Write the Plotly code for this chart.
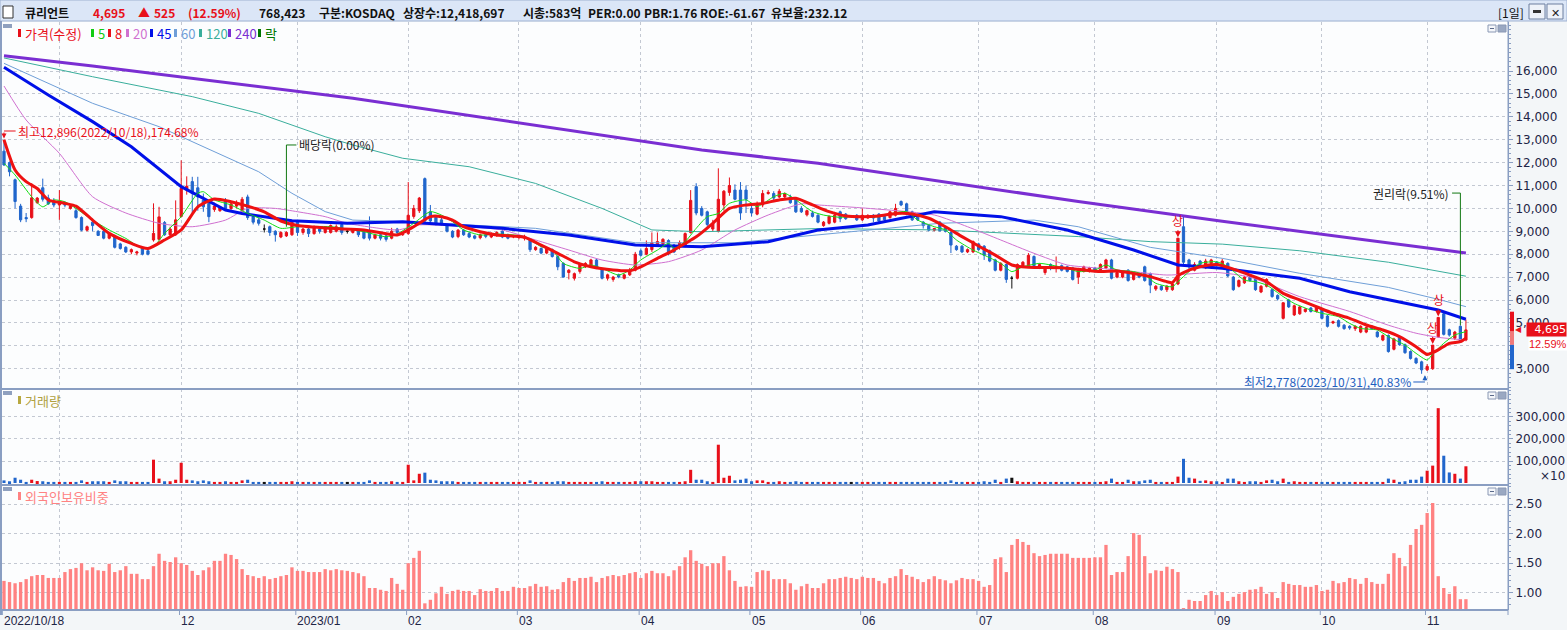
import plotly.graph_objects as go

W, H = 1567, 630

# ---------------------------------------------------------------- data
# 큐리언트 일봉 2022/10/18 ~ 2023/11/10 (265 거래일), x = 거래일 순번
opens = [
    12500, 12000, 11250, 10100, 9600, 9600, 10250, 10900, 10450, 10300,
    10150, 10200, 10000, 9900, 9600, 9050, 9400, 9000, 9000, 8700,
    8800, 8450, 8300, 8100, 8050, 8250, 8150, 8620, 8650, 9380,
    8850, 8850, 9650, 10800, 11170, 10900, 10360, 10220, 9950, 9900,
    10300, 10000, 10100, 9900, 10500, 9650, 9500, 9100, 9200, 9000,
    8750, 8800, 8850, 9400, 8950, 9100, 8900, 9100, 8950, 8950,
    9000, 9300, 9000, 8950, 9050, 9000, 9000, 8700, 8850, 8800,
    8700, 9100, 8850, 8900, 9650, 9900, 11300, 9850, 9650, 9500,
    9250, 9000, 8770, 9050, 8900, 8800, 8720, 8850, 8750, 8820,
    9000, 8850, 8750, 8730, 8700, 8620, 8200, 8250, 8050, 8200,
    7900, 7600, 7200, 6950, 7250, 7450, 7450, 7750, 7350, 6950,
    6900, 7100, 6950, 7100, 7300, 8150, 8000, 8200, 8400, 8450,
    8600, 8400, 8300, 8350, 8950, 10950, 10000, 9850, 9100, 9000,
    10150, 10700, 10800, 10800, 10800, 10000, 9750, 10150, 10650, 10650,
    10500, 10500, 10500, 10400, 10000, 9720, 9800, 9700, 9250, 9350,
    9400, 9850, 9750, 9650, 9700, 9500, 9580, 9700, 9750, 9650,
    9600, 9700, 10300, 10200, 9850, 9700, 9400, 9250, 9050, 9400,
    9150, 8950, 8350, 8350, 8100, 8100, 8450, 8350, 8150, 7750,
    7300, 7550, 6950, 6950, 7450, 7500, 7900, 7400, 7200, 7550,
    7400, 7500, 7450, 7400, 7000, 7250, 7250, 7400, 7250, 7400,
    7750, 7000, 7000, 7300, 6900, 7100, 7450, 7150, 6480, 6600,
    6450, 6450, 6700, 9200, 7750, 7300, 7700, 7400, 7600, 7650,
    7450, 7600, 7000, 6600, 6750, 7000, 6950, 6350, 6600, 6450,
    6200, 5200, 6000, 5350, 5400, 5500, 5650, 5500, 5600, 5300,
    5000, 5100, 4900, 4850, 4750, 4600, 4600, 4850, 4600, 4250,
    4450, 3850, 4400, 4050, 3750, 3450, 3300, 2950, 3000, 4400,
    5400, 4700, 4330, 4850, 4250,
]
highs = [
    12896, 12050, 11300, 10200, 9800, 11100, 10500, 11300, 10600, 10450,
    10800, 10300, 10150, 10000, 9650, 9250, 9450, 9050, 9050, 8950,
    8850, 8500, 8350, 8250, 8150, 8300, 8200, 10220, 10070, 9450,
    9200, 10350, 12100, 11400, 11380, 11380, 10650, 10300, 10250, 10100,
    10450, 10250, 10350, 10500, 10600, 9750, 9600, 9300, 9250, 9050,
    9000, 9000, 9500, 9500, 9150, 9150, 9250, 9200, 9200, 9300,
    9300, 9350, 9100, 9100, 9100, 9050, 9650, 8900, 8900, 8850,
    9150, 9150, 8950, 11150, 10150, 10500, 11350, 10150, 9700, 9600,
    9300, 9050, 9100, 9100, 9000, 8850, 8900, 8900, 8950, 9000,
    9100, 8900, 8850, 8850, 8850, 8650, 8350, 8300, 8300, 8250,
    7950, 7650, 7350, 7200, 7600, 7650, 7800, 7800, 7400, 7150,
    7050, 7150, 7150, 7400, 8100, 8250, 8600, 8950, 8950, 8700,
    8650, 8450, 8600, 8950, 10800, 11100, 10100, 9900, 9500, 11750,
    10800, 11350, 11050, 11150, 11000, 10150, 10300, 10800, 10800, 10750,
    10850, 10700, 10600, 10450, 10100, 9950, 9900, 9750, 9450, 9700,
    9850, 9900, 9800, 9700, 9750, 10000, 9750, 9750, 9800, 9700,
    9900, 10200, 10350, 10250, 9900, 9750, 9450, 9300, 9150, 9450,
    9200, 9000, 8400, 8400, 8250, 8600, 8500, 8400, 8200, 7800,
    7650, 7600, 7050, 7600, 7700, 8050, 7950, 7600, 7450, 7600,
    7900, 7550, 7500, 7450, 7400, 7500, 7450, 7450, 7600, 7800,
    7800, 7250, 7300, 7350, 7200, 7150, 7500, 7200, 6650, 6650,
    6650, 6750, 8700, 9700, 7800, 7650, 7750, 7800, 7800, 7700,
    7800, 7650, 7050, 6900, 7050, 7050, 7000, 6650, 6950, 6500,
    6250, 5900, 6050, 5800, 5750, 5650, 5700, 5750, 5650, 5350,
    5100, 5150, 4950, 4900, 4900, 4900, 4850, 4900, 4650, 4500,
    4500, 4350, 4450, 4100, 3800, 3500, 3350, 3200, 4030, 5240,
    5450, 4750, 4650, 4900, 5150,
]
lows = [
    11850, 11400, 10000, 9400, 9400, 9550, 10200, 10300, 10150, 10050,
    9500, 10050, 9950, 9550, 9000, 9000, 9000, 8800, 8650, 8650,
    8250, 8200, 8050, 8000, 7950, 7950, 7950, 8550, 8600, 8800,
    8800, 8800, 9600, 10600, 9780, 9900, 9850, 9400, 9850, 9850,
    9950, 9900, 10000, 9850, 9500, 9300, 9250, 8950, 8800, 8550,
    8700, 8750, 8800, 8800, 8850, 8750, 8850, 8900, 8900, 8900,
    8950, 8850, 8900, 8900, 8750, 8650, 8600, 8650, 8600, 8550,
    8650, 8850, 8800, 8850, 9550, 9800, 9400, 9350, 9250, 9250,
    8950, 8700, 8700, 8800, 8700, 8650, 8650, 8700, 8700, 8750,
    8700, 8650, 8700, 8650, 8600, 8100, 8150, 8000, 8000, 7850,
    7300, 6980, 6900, 6850, 7150, 7400, 7400, 7350, 6900, 6850,
    6800, 6950, 6900, 7050, 7250, 7900, 7950, 8100, 8350, 8400,
    7950, 8050, 8200, 8300, 8900, 9700, 9650, 9200, 9000, 8950,
    9900, 10550, 10350, 9500, 9800, 9650, 9700, 10050, 10600, 10350,
    10450, 10450, 10200, 9800, 9800, 9650, 9600, 9350, 9200, 9300,
    9350, 9400, 9500, 9600, 9450, 9450, 9550, 9400, 9400, 9450,
    9550, 9650, 10100, 9700, 9450, 9450, 9120, 9000, 9000, 9000,
    8950, 8050, 8150, 8050, 8050, 8050, 8150, 7750, 7650, 7250,
    7250, 6750, 6500, 6900, 7400, 7450, 7450, 7350, 7100, 7300,
    7200, 7250, 7200, 6850, 6700, 7200, 7200, 7200, 7200, 7350,
    6900, 6950, 6950, 6800, 6850, 6950, 6800, 6300, 6400, 6400,
    6350, 6400, 6650, 7550, 7350, 7250, 7500, 7350, 7550, 7450,
    7400, 7000, 6400, 6550, 6700, 6800, 6400, 6300, 6550, 6100,
    5980, 5150, 5650, 5300, 5350, 5450, 5450, 5450, 5150, 4800,
    4950, 4800, 4700, 4700, 4650, 4550, 4550, 4700, 4350, 4200,
    3700, 3800, 4000, 3650, 3400, 3200, 2778, 2900, 2950, 4350,
    4450, 4400, 4250, 4150, 4200,
]
closes = [
    11900, 11600, 10300, 9500, 9550, 10460, 10450, 10400, 10200, 10150,
    10250, 10150, 10100, 9600, 9050, 9200, 9250, 8820, 8700, 8900,
    8300, 8250, 8100, 8200, 8100, 8000, 8000, 8910, 9630, 8850,
    9100, 9500, 10870, 10970, 10650, 10500, 10070, 9640, 10100, 10050,
    10000, 10200, 10250, 10400, 9600, 9400, 9350, 9100, 8950, 8850,
    8950, 8950, 9400, 8950, 9100, 8900, 9150, 9000, 9150, 9250,
    9200, 8950, 9000, 9050, 8850, 8700, 8700, 8850, 8700, 8650,
    9000, 8950, 8900, 9700, 10000, 10450, 9450, 9450, 9350, 9350,
    9000, 8750, 9050, 8850, 8750, 8700, 8850, 8780, 8900, 8950,
    8750, 8700, 8800, 8800, 8780, 8200, 8300, 8050, 8250, 7900,
    7450, 7000, 7300, 7150, 7550, 7600, 7750, 7400, 6950, 7100,
    7000, 7000, 7100, 7300, 8000, 7950, 8250, 8500, 8550, 8650,
    8050, 8100, 8500, 8900, 10350, 9800, 9700, 9300, 9350, 10400,
    10750, 11000, 10400, 9800, 10400, 9800, 10150, 10650, 10700, 10450,
    10750, 10650, 10250, 9850, 9850, 9900, 9650, 9400, 9400, 9650,
    9700, 9550, 9550, 9650, 9500, 9700, 9680, 9580, 9450, 9500,
    9850, 10000, 10150, 9750, 9500, 9500, 9250, 9050, 9120, 9020,
    9000, 8400, 8200, 8100, 8200, 8550, 8200, 7950, 7700, 7300,
    7600, 6900, 6950, 7550, 7650, 7950, 7500, 7550, 7400, 7400,
    7450, 7300, 7250, 6900, 7300, 7450, 7400, 7250, 7550, 7750,
    6950, 7200, 7250, 6850, 7150, 7000, 6850, 6650, 6600, 6450,
    6600, 6700, 8700, 7650, 7450, 7550, 7550, 7700, 7750, 7550,
    7700, 7050, 6450, 6850, 7000, 6850, 6450, 6600, 6900, 6150,
    6050, 5880, 5700, 5750, 5700, 5600, 5500, 5700, 5200, 4850,
    5050, 4850, 4750, 4780, 4850, 4850, 4800, 4750, 4400, 4450,
    3750, 4300, 4050, 3700, 3450, 3250, 2950, 3100, 4030, 5240,
    4500, 4470, 4600, 4170, 4695,
]

# 거래량 (화면 단위, x10 주)
volume = [
    12000, 8000, 24000, 15000, 5000, 15000, 9000, 8000, 5000, 5000,
    5000, 5000, 5000, 5000, 12000, 5000, 8000, 8000, 8000, 5000,
    12000, 8000, 8000, 5000, 5000, 5000, 5000, 106000, 20000, 8000,
    8000, 15000, 92000, 15000, 12000, 8000, 12000, 8000, 5000, 5000,
    8000, 5000, 5000, 12000, 15000, 5000, 5000, 5000, 5000, 5000,
    5000, 5000, 8000, 5000, 5000, 5000, 5000, 5000, 5000, 5000,
    5000, 5000, 5000, 5000, 5000, 5000, 12000, 5000, 5000, 5000,
    8000, 5000, 5000, 83000, 12000, 42000, 47000, 15000, 12000, 8000,
    8000, 8000, 5000, 5000, 5000, 5000, 5000, 5000, 5000, 5000,
    5000, 5000, 5000, 5000, 5000, 12000, 5000, 5000, 5000, 5000,
    8000, 8000, 5000, 5000, 5000, 5000, 5000, 5000, 8000, 5000,
    5000, 5000, 5000, 5000, 8000, 8000, 8000, 8000, 5000, 5000,
    5000, 5000, 5000, 8000, 60000, 15000, 15000, 8000, 5000, 174000,
    24000, 33000, 12000, 15000, 20000, 8000, 12000, 12000, 5000, 5000,
    8000, 5000, 5000, 8000, 5000, 5000, 5000, 5000, 5000, 5000,
    5000, 5000, 5000, 5000, 5000, 5000, 5000, 5000, 5000, 5000,
    5000, 5000, 5000, 5000, 5000, 5000, 5000, 5000, 5000, 5000,
    5000, 12000, 5000, 5000, 5000, 5000, 5000, 8000, 5000, 15000,
    5000, 20000, 24000, 8000, 5000, 5000, 5000, 5000, 5000, 5000,
    5000, 5000, 5000, 5000, 5000, 5000, 5000, 5000, 5000, 8000,
    20000, 5000, 5000, 15000, 8000, 8000, 12000, 15000, 5000, 5000,
    5000, 5000, 29000, 110000, 24000, 20000, 10000, 12000, 8000, 8000,
    5000, 20000, 20000, 8000, 5000, 8000, 8000, 5000, 12000, 15000,
    8000, 20000, 5000, 8000, 5000, 5000, 5000, 5000, 5000, 5000,
    5000, 5000, 5000, 5000, 5000, 5000, 5000, 5000, 5000, 5000,
    20000, 15000, 5000, 8000, 15000, 15000, 29000, 56000, 79000, 340000,
    124000, 48000, 42000, 20000, 76000,
]

# 외국인보유비중 (%)
foreign = [
    1.20, 1.18, 1.16, 1.18, 1.23, 1.28, 1.30, 1.30, 1.25, 1.25,
    1.25, 1.35, 1.40, 1.42, 1.50, 1.38, 1.43, 1.38, 1.37, 1.49,
    1.35, 1.38, 1.45, 1.32, 1.32, 1.23, 1.23, 1.45, 1.66, 1.54,
    1.52, 1.60, 1.50, 1.47, 1.37, 1.30, 1.38, 1.43, 1.54, 1.54,
    1.66, 1.64, 1.57, 1.40, 1.30, 1.28, 1.25, 1.28, 1.23, 1.25,
    1.28, 1.30, 1.43, 1.37, 1.37, 1.35, 1.35, 1.35, 1.40, 1.38,
    1.40, 1.38, 1.37, 1.35, 1.33, 1.28, 1.08, 1.08, 1.05, 1.03,
    1.25, 1.15, 1.05, 1.50, 1.59, 1.71, 0.82, 0.88, 0.99, 1.10,
    0.98, 1.03, 1.05, 1.03, 1.03, 0.96, 1.06, 1.03, 1.03, 1.08,
    1.03, 1.03, 1.10,
    1.08, 1.08, 1.11, 1.15, 1.10, 1.11, 1.05, 1.06, 1.18, 1.25,
    1.20, 1.25, 1.25, 1.27, 1.18, 1.25, 1.28, 1.30, 1.28, 1.30,
    1.33, 1.35, 1.25, 1.33, 1.37, 1.33, 1.33, 1.28, 1.38, 1.45,
    1.60, 1.72, 1.54, 1.49, 1.45, 1.50, 1.50, 1.62, 1.38, 1.20,
    1.10, 1.11, 1.10, 1.35, 1.38, 1.37, 1.23, 1.23, 1.23, 1.16,
    1.05, 1.11, 1.15, 1.08, 1.08, 1.16, 1.23, 1.23, 1.25, 1.27,
    1.25, 1.23, 1.27, 1.25, 1.25, 1.20, 1.16, 1.25, 1.28, 1.40,
    1.30, 1.27, 1.23, 1.18, 1.23, 1.28, 1.23, 1.21, 1.16, 1.21,
    1.25, 1.23, 1.23, 1.20, 1.10, 1.13, 1.57, 1.60, 1.35, 1.81,
    1.91, 1.86, 1.81, 1.67,
    1.62, 1.64, 1.66, 1.66, 1.66, 1.66, 1.59, 1.59, 1.59, 1.59,
    1.60, 1.60, 1.81, 1.30, 1.35, 1.35, 1.62, 2.01, 1.98, 1.62,
    1.33, 1.38, 1.37, 1.44, 1.40, 1.35, 0.74, 0.88, 0.86, 0.86,
    0.96, 1.03, 0.96, 1.01, 0.86, 0.93, 0.98, 1.01, 1.05, 1.06,
    1.10, 0.98, 1.01, 0.91, 1.18, 1.15, 1.13, 1.13, 1.10, 1.10,
    1.13, 1.03, 1.05, 1.20, 1.16, 1.18, 1.25, 1.23, 1.15, 1.25,
    1.18, 1.15, 1.15, 1.32, 1.67, 1.59, 1.45, 1.81, 2.08, 2.15,
    2.35, 2.52, 1.28, 1.08, 0.98, 1.11, 0.89, 0.89,
]

# 이동평균선 (화면에서 읽은 값, x = 거래일 순번)
ma5_x = [0, 2, 5, 7, 9, 11, 13, 16, 19, 22, 25, 27, 29, 32, 35, 36, 38, 41, 44, 47,
         50, 53, 59, 65, 69, 71, 74, 77, 79, 81, 83, 86, 89, 92, 94, 97, 99, 101, 104, 106,
         108, 111, 113, 115, 118, 120, 121, 123, 125, 127, 129, 131, 134, 136, 139, 141, 143, 146, 148, 151,
         153, 156, 158, 160, 163, 165, 168, 170, 172, 175, 177, 180, 182, 184, 187, 189, 192, 194, 197, 199,
         201, 204, 206, 208, 211, 212, 214, 216, 219, 221, 224, 226, 228, 231, 233, 236, 238, 241, 243, 245,
         248, 250, 253, 255, 257, 258, 260, 262, 264]
ma5 = [11970, 11460, 10510, 10070, 10370, 10290, 10000, 9490, 9060, 8690, 8250, 8330, 8910, 9640, 10660, 10730, 10370, 10150, 9780, 9490,
       9130, 9200, 9200, 8980, 8760, 8880, 9350, 9860, 9710, 9420, 9060, 8840, 8880, 8840, 8760, 8330, 8180, 7600, 7380, 7530,
       7380, 7090, 7310, 7750, 8180, 8470, 8260, 8550, 9130, 9640, 9780, 10220, 10370, 10080, 10510, 10660, 10370, 9860, 9710, 9610,
       9640, 9610, 9640, 9760, 9860, 9490, 9200, 9060, 8620, 8180, 7960, 7600, 7240, 7450, 7600, 7530, 7380, 7240, 7310, 7530,
       7310, 7240, 7090, 6730, 6580, 6800, 7240, 7600, 7670, 7460, 6870, 6800, 6650, 6150, 5850, 5560, 5420, 5270, 4980, 4760,
       4690, 4400, 4030, 3670, 3380, 3640, 4110, 4470, 4620]

ma8_x = [0, 2, 4, 6, 8, 11, 13, 16, 19, 23, 26, 29, 32, 35, 38, 41, 44, 47, 50, 53,
         59, 65, 71, 73, 75, 77, 79, 81, 83, 86, 89, 92, 94, 97, 100, 103, 106, 110, 113, 115,
         118, 121, 123, 125, 128, 131, 134, 137, 140, 143, 146, 149, 152, 155, 158, 161, 164, 167, 170, 173,
         176, 179, 182, 185, 191, 194, 198, 201, 204, 207, 210, 211, 212, 213, 216, 219, 222, 225, 228, 231,
         234, 237, 240, 243, 246, 249, 252, 255, 257, 258, 259, 261, 263, 264]
ma8 = [13000, 11680, 11170, 10870, 10370, 10220, 10100, 9490, 8910, 8470, 8250, 8620, 9060, 10070, 10410, 10290, 10100, 9850, 9450, 9250,
       9130, 9060, 8840, 9060, 9350, 9640, 9640, 9490, 9200, 8980, 8840, 8790, 8740, 8400, 8040, 7670, 7450, 7310, 7280, 7450,
       7820, 8180, 8470, 8760, 9350, 10000, 10150, 10220, 10370, 10440, 10150, 9860, 9670, 9640, 9670, 9780, 9760, 9570, 9200, 8770,
       8360, 7960, 7530, 7430, 7410, 7340, 7240, 7270, 7160, 7020, 6800, 6760, 7050, 7200, 7450, 7550, 7350, 7090, 6800, 6290,
       6000, 5710, 5420, 5200, 4910, 4690, 4400, 3960, 3620, 3700, 3820, 4110, 4180, 4330]

ma20_x = [0, 4, 10, 16, 22, 28, 34, 40, 44, 49, 53, 58, 62, 71, 75, 78, 84, 90, 96, 102,
          108, 114, 120, 126, 132, 138, 144, 147, 156, 168, 174, 180, 186, 192, 198, 204, 210, 219, 225, 234,
          243, 250, 255, 259, 264]
ma20 = [15345, 13860, 12405, 10510, 9800, 9350, 9200, 9490, 10000, 10000, 9855, 9640, 9350, 9060, 9280, 9275, 9200, 9057, 8620, 8183,
        7747, 7530, 7675, 8183, 9057, 9712, 10200, 10150, 10004, 9712, 9200, 8620, 8040, 7530, 7385, 7236, 7091, 7200, 7000, 6145,
        5500, 4900, 4550, 4370, 4250]

ma45_x = [0, 8, 16, 23, 32, 40, 43, 52, 62, 72, 90, 102, 114, 126, 138, 147, 156, 168, 180, 192,
          204, 212, 220, 234, 243, 259, 264]
ma45 = [16160, 14950, 13790, 12690, 10950, 9930, 9780, 9460, 9350, 9420, 9130, 8840, 8400, 8330, 8545, 9057, 9275, 9855, 9640, 9057,
        8183, 7530, 7385, 6947, 6363, 5563, 5160]

ma60_x = [0, 16, 28, 40, 46, 52, 58, 63, 72, 96, 114, 132, 147, 169, 186, 194, 207, 220, 234, 250, 259, 264]
ma60 = [16335, 14590, 13570, 12260, 11600, 10660, 9860, 9490, 9420, 9130, 8500, 8500, 8840, 9350, 9490, 9200, 8300, 7820, 7165, 6550,
        6030, 5710]

ma120_x = [0, 16, 34, 46, 58, 63, 72, 84, 96, 108, 117, 126, 147, 169, 194, 207, 220, 234, 250, 264]
ma120 = [16570, 15750, 14880, 14150, 13130, 12770, 12190, 11820, 11090, 10000, 9060, 8980, 9120, 9060, 8770, 8550, 8440, 8150, 7650, 7040]

ma240_x = [0, 16, 63, 126, 147, 194, 220, 237, 264]
ma240 = [16670, 16220, 14810, 12550, 11970, 10300, 9440, 8910, 8050]

# 축 / 날짜
grid_idx = [10, 32, 53, 73, 93, 115, 135, 155, 176, 197, 219, 238, 257]
date_idx = [0, 32, 53, 73, 93, 115, 135, 155, 176, 197, 219, 238, 257]
date_text = ["2022/10/18", "12", "2023/01", "02", "03", "04", "05", "06", "07", "08", "09", "10", "11"]
price_ticks = [3000, 4000, 5000, 6000, 7000, 8000, 9000, 10000, 11000, 12000, 13000, 14000, 15000, 16000]
price_labels = ["3,000", "", "5,000", "6,000", "7,000", "8,000", "9,000", "10,000", "11,000",
                "12,000", "13,000", "14,000", "15,000", "16,000"]
volume_ticks = [100000, 200000, 300000]
foreign_ticks = [1.00, 1.50, 2.00, 2.50]

# 이벤트
high_idx, high_val = 0, 12896
low_idx, low_val = 256, 2778
limit_up_idx = [212, 258, 259]
ex_div_idx = 51
ex_right_idx = 263
last_change = "12.59%"

# ---------------------------------------------------------------- style
RED = "#e8101a"
BLUE = "#2166cc"
BLACK = "#111111"
AXIS = "#8a9ec2"
GRID = "#c3c8d2"
TXT = "#1e2546"
KR = "Noto Sans CJK KR"
NUM = "DejaVu Sans"
NUM2 = "Liberation Sans"


def fx(p):
    return p / W


def fy(p):
    return 1 - p / H


n = len(closes)
idx = list(range(n))
up = [i for i in idx if closes[i] > opens[i]]
down = [i for i in idx if closes[i] < opens[i]]
flat = [i for i in idx if closes[i] == opens[i]]

fig = go.Figure()


def candles(ids, color):
    return go.Candlestick(
        x=ids,
        open=[opens[i] for i in ids],
        high=[highs[i] for i in ids],
        low=[lows[i] for i in ids],
        close=[closes[i] for i in ids],
        increasing=dict(line=dict(color=color, width=1), fillcolor=color),
        decreasing=dict(line=dict(color=color, width=1), fillcolor=color),
        whiskerwidth=0, hoverinfo="skip", showlegend=False,
        xaxis="x", yaxis="y",
    )


fig.add_trace(candles(up, RED))
fig.add_trace(candles(down, BLUE))
fig.add_trace(candles(flat, BLACK))

ma_lines = [
    (ma240_x, ma240, "#7a2ed2", 3, "linear"),
    (ma120_x, ma120, "#3aae9c", 1, "linear"),
    (ma60_x, ma60, "#6f9fd8", 1, "linear"),
    (ma20_x, ma20, "#d070d0", 1, "spline"),
    (ma45_x, ma45, "#0010e8", 3, "linear"),
    (ma5_x, ma5, "#11dd11", 1, "spline"),
    (ma8_x, ma8, "#ee1111", 3, "spline"),
]
for xs, ys, color, width, shape in ma_lines:
    fig.add_trace(go.Scatter(
        x=xs, y=ys, mode="lines", hoverinfo="skip", showlegend=False,
        line=dict(color=color, width=width, shape=shape, smoothing=0.6),
        xaxis="x", yaxis="y",
    ))

vol_colors = [RED if closes[i] > opens[i] else BLUE if closes[i] < opens[i] else BLACK for i in idx]
fig.add_trace(go.Bar(
    x=idx, y=volume, width=0.55, marker=dict(color=vol_colors, line=dict(width=0)),
    hoverinfo="skip", showlegend=False, xaxis="x2", yaxis="y2",
))
fig.add_trace(go.Bar(
    x=idx, y=foreign, width=0.6, marker=dict(color="#ff8282", line=dict(width=0)),
    hoverinfo="skip", showlegend=False, xaxis="x3", yaxis="y3",
))

# ---------------------------------------------------------------- axes
X_DOM = [fx(2), fx(1508)]
X_RANGE = [-0.36, 271.6]
xcommon = dict(domain=X_DOM, range=X_RANGE, tickmode="array", tickvals=grid_idx,
               showticklabels=False, ticks="", zeroline=False, showline=False,
               showgrid=True, gridcolor=GRID, griddash="dot", gridwidth=1)
ycommon = dict(side="right", showline=True, linecolor=AXIS, linewidth=1,
               ticks="outside", ticklen=4, tickcolor=AXIS, zeroline=False,
               showgrid=True, gridcolor=GRID, griddash="dot", gridwidth=1,
               tickfont=dict(family=NUM, size=12, color=TXT), tickmode="array")

fig.update_layout(
    width=W, height=H, margin=dict(l=0, r=0, t=0, b=0),
    paper_bgcolor="#f3f6f8", plot_bgcolor="#fcfdfe",
    showlegend=False, boxgap=0.42, dragmode=False,
    font=dict(family=KR, size=12, color=TXT),
    xaxis=dict(**xcommon, anchor="y", rangeslider=dict(visible=False)),
    xaxis2=dict(**xcommon, anchor="y2", matches="x"),
    xaxis3=dict(**xcommon, anchor="y3", matches="x"),
    yaxis=dict(**ycommon, domain=[fy(389), fy(22)], range=[2114, 18140],
               tickvals=price_ticks, ticktext=price_labels,
               minor=dict(ticks="outside", ticklen=2, tickcolor=AXIS, dtick=200, showgrid=False)),
    yaxis2=dict(**ycommon, domain=[fy(485), fy(389)], range=[-9000, 427000],
                tickvals=volume_ticks, tickformat=",d",
                minor=dict(ticks="outside", ticklen=2, tickcolor=AXIS, dtick=20000, showgrid=False)),
    yaxis3=dict(**ycommon, domain=[fy(610), fy(485)], range=[0.707, 2.825],
                tickvals=foreign_ticks, tickformat=".2f",
                minor=dict(ticks="outside", ticklen=2, tickcolor=AXIS, dtick=0.1, showgrid=False)),
)

shapes = []
ann = []


def rect(x0, y0, x1, y1, fill, line=None, width=1):
    shapes.append(dict(type="rect", xref="paper", yref="paper",
                       x0=fx(x0), x1=fx(x1), y0=fy(y1), y1=fy(y0),
                       fillcolor=fill, line=dict(color=line or fill, width=width if line else 0),
                       layer="above"))


def hline(x0, x1, y, color=AXIS, width=1):
    shapes.append(dict(type="line", xref="paper", yref="paper",
                       x0=fx(x0), x1=fx(x1), y0=fy(y), y1=fy(y),
                       line=dict(color=color, width=width), layer="above"))


def text(x, y, s, color=TXT, size=12, anchor="left", family=KR, bold=False, **kw):
    if bold:
        s = "<b>" + s + "</b>"
    ann.append(dict(xref="paper", yref="paper", x=fx(x), y=fy(y), text=s,
                    showarrow=False, xanchor=anchor, yanchor="middle",
                    font=dict(family=family, size=size, color=color), **kw))


# 상단 제목줄
rect(0, 0, 1567, 21, "#dbe6f7", "#9fb2d2")
rect(3, 6, 13, 18, "#ffffff", "#333333")
title_parts = [
    (23, "큐리언트", "#111111"), (91, "4,695", RED), (136, "▲", RED), (152, "525", RED),
    (186, "(12.59%)", RED), (257, "768,423", "#111111"), (317, "구분:KOSDAQ", "#111111"),
    (401, "상장수:12,418,697", "#111111"), (521, "시총:583억", "#111111"),
    (586, "PER:0.00", "#111111"), (642, "PBR:1.76", "#111111"),
    (698, "ROE:-61.67", "#111111"), (769, "유보율:232.12", "#111111"),
]
for tx, label, color in title_parts:
    text(tx, 12, label, color, 12, bold=True)
text(1496, 12, "[1일]", "#111111", 12)
rect(1529, 4, 1545, 19, "#eef2f9", "#6d7f9f")
rect(1533, 10, 1541, 13, "#333333")
rect(1547, 4, 1563, 19, "#eef2f9", "#6d7f9f")
text(1555, 12, "✕", "#222222", 11, anchor="center")

# 패널 테두리
hline(0, 1508, 389, AXIS, 2)
hline(0, 1508, 485, AXIS, 2)
hline(0, 1508, 610, AXIS, 2)
shapes.append(dict(type="line", xref="paper", yref="paper", x0=fx(1), x1=fx(1),
                   y0=fy(615), y1=fy(21), line=dict(color=AXIS, width=2), layer="above"))
shapes.append(dict(type="line", xref="paper", yref="paper", x0=fx(1508), x1=fx(1508),
                   y0=fy(615), y1=fy(21), line=dict(color=AXIS, width=1), layer="above"))

# 패널 범례
for top in (22, 389, 485):
    rect(3, top + 2, 12, top + 6, "#8fa0bf")
    rect(1488, top + 3, 1496, top + 10, "#f4f6fa", "#8a98b4")
    rect(1490, top + 6, 1494, top + 7, "#5a6a8a")
    rect(1498, top + 3, 1506, top + 10, "#9aa8c2", "#8a98b4")

legend_items = [
    (18, "가격(수정)", "#e8101a"), (91, "5", "#11cc11"), (108, "8", "#e8101a"),
    (126, "20", "#d070d0"), (150, "45", "#0010e8"), (174, "60", "#6f9fd8"),
    (199, "120", "#3aae9c"), (228, "240", "#7a2ed2"), (258, "락", "#007700"),
]
for mx, label, color in legend_items:
    rect(mx, 29, mx + 3, 37, color)
    text(mx + 5, 33, label, color, 13)
rect(18, 396, 21, 404, "#b8a840")
text(23, 400, "거래량", "#b0a040", 13)
rect(18, 492, 21, 500, "#ff8282")
text(23, 496, "외국인보유비중", "#ff8282", 13)

# 날짜 라벨
for i, label in zip(date_idx, date_text):
    ann.append(dict(xref="x3", yref="paper", x=i, y=fy(621), text=label, showarrow=False,
                    xanchor="left", yanchor="middle", xshift=-2,
                    font=dict(family=NUM2, size=12, color=TXT)))
    shapes.append(dict(type="line", xref="x3", yref="paper", x0=i - 0.3, x1=i - 0.3,
                       y0=fy(615), y1=fy(610), line=dict(color=AXIS, width=1)))

# 최고 / 최저
ann.append(dict(xref="x", yref="y", x=high_idx + 2.2, y=13380, text="최고12,896(2022/10/18),174.68%",
                showarrow=False, xanchor="left", yanchor="middle", font=dict(family=KR, size=12, color=RED)))
shapes.append(dict(type="line", xref="x", yref="y", x0=high_idx, x1=high_idx + 2.1, y0=13380, y1=13380,
                   line=dict(color=RED, width=1)))
ann.append(dict(xref="x", yref="y", x=high_idx, y=high_val + 160, ax=high_idx, ay=13380,
                axref="x", ayref="y", text="", showarrow=True, arrowhead=2, arrowsize=1,
                arrowwidth=1, arrowcolor=RED))

ann.append(dict(xref="x", yref="y", x=low_idx - 1.5, y=2420,
                text="최저2,778(2023/10/31),40.83%", showarrow=False, xanchor="right",
                yanchor="middle", font=dict(family=KR, size=12, color="#1f5fc0")))
shapes.append(dict(type="line", xref="x", yref="y", x0=low_idx - 1.5, x1=low_idx + 0.6, y0=2420, y1=2420,
                   line=dict(color="#1f5fc0", width=1)))
ann.append(dict(xref="x", yref="y", x=low_idx + 0.6, y=low_val - 60, ax=low_idx + 0.6, ay=2420,
                axref="x", ayref="y", text="", showarrow=True, arrowhead=2, arrowsize=1,
                arrowwidth=1, arrowcolor="#1f5fc0"))

# 배당락 / 권리락
LAK = "#117711"
shapes.append(dict(type="line", xref="x", yref="y", x0=ex_div_idx, x1=ex_div_idx,
                   y0=highs[ex_div_idx] + 200, y1=12770, line=dict(color=LAK, width=1)))
shapes.append(dict(type="line", xref="x", yref="y", x0=ex_div_idx, x1=ex_div_idx + 1.8,
                   y0=12770, y1=12770, line=dict(color=LAK, width=1)))
ann.append(dict(xref="x", yref="y", x=ex_div_idx + 2.0, y=12770, text="배당락(0.00%)",
                showarrow=False, xanchor="left", yanchor="middle",
                font=dict(family=KR, size=12, color="#222222")))
shapes.append(dict(type="line", xref="x", yref="y", x0=ex_right_idx, x1=ex_right_idx,
                   y0=highs[ex_right_idx], y1=10670, line=dict(color=LAK, width=1)))
shapes.append(dict(type="line", xref="x", yref="y", x0=ex_right_idx - 1.5, x1=ex_right_idx,
                   y0=10670, y1=10670, line=dict(color=LAK, width=1)))
ann.append(dict(xref="x", yref="y", x=ex_right_idx - 1.7, y=10670, text="권리락(9.51%)",
                showarrow=False, xanchor="right", yanchor="middle",
                font=dict(family=KR, size=12, color="#222222")))

# 상한가 표시
for i in limit_up_idx:
    ann.append(dict(xref="x", yref="y", x=i, y=highs[i], text="상", showarrow=True,
                    arrowhead=2, arrowsize=1, arrowwidth=1.2, arrowcolor=RED, ax=0, ay=-18,
                    standoff=1, font=dict(family=KR, size=12, color=RED)))

# 현재가 라벨
ann.append(dict(xref="paper", yref="y", x=fx(1526), y=closes[-1], text=f"{closes[-1]:,}",
                showarrow=False, xanchor="left", yanchor="middle", bgcolor=RED, borderpad=0,
                width=39, align="right",
                font=dict(family=NUM, size=11, color="#ffffff")))
ann.append(dict(xref="paper", yref="y", x=fx(1528), y=closes[-1], yshift=-14, text=last_change,
                showarrow=False, xanchor="left", yanchor="middle", bgcolor="#ffffff", borderpad=0,
                font=dict(family=NUM2, size=11, color=RED)))
ann.append(dict(xref="paper", yref="y", x=fx(1518), y=closes[-1], text="◀", showarrow=False,
                xanchor="center", yanchor="middle", font=dict(family=NUM, size=8, color=RED)))
for y0, y1, color in ((4620, 5490, RED), (4040, 4620, "#f07a7a"), (2980, 4040, BLUE)):
    shapes.append(dict(type="rect", xref="paper", yref="y", x0=fx(1510), x1=fx(1514),
                       y0=y0, y1=y1, fillcolor=color, line=dict(width=0)))

# 거래량 단위
text(1538, 476, "×10", TXT, 12, family=NUM)

fig.update_layout(shapes=shapes, annotations=ann)

fig.write_html("out.html", config={"displayModeBar": False},
               post_script="document.body.style.margin='0';document.body.style.overflow='hidden';")
